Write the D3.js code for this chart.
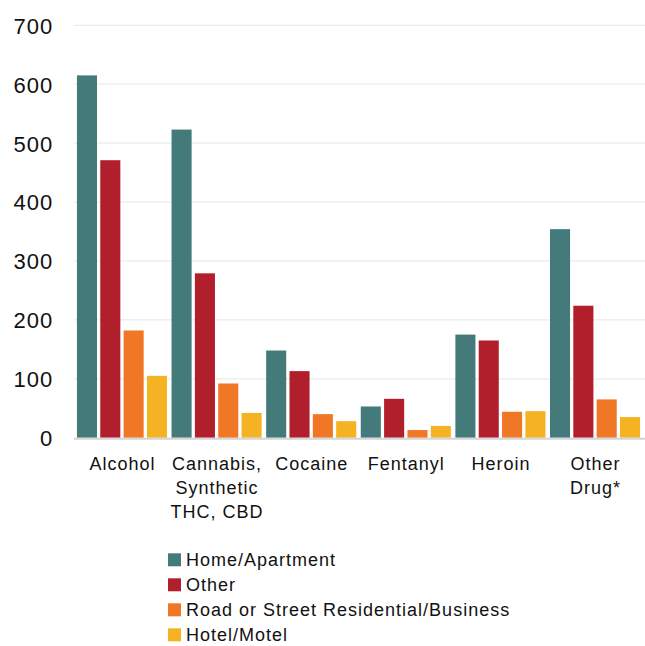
<!DOCTYPE html>
<html><head><meta charset="utf-8">
<script src="https://cdn.jsdelivr.net/npm/d3@7"></script>
<style>body{margin:0;background:#fff;} svg{display:block;} text{font-family:"Liberation Sans",Arial,sans-serif;fill:#111;}</style>
</head><body>
<script>
const categories = ["Alcohol", "Cannabis, Synthetic THC, CBD", "Cocaine", "Fentanyl", "Heroin", "Other Drug*"];
const categoryLines = [["Alcohol"], ["Cannabis,", "Synthetic", "THC, CBD"], ["Cocaine"], ["Fentanyl"], ["Heroin"], ["Other", "Drug*"]];
const seriesNames = ["Home/Apartment", "Other", "Road or Street Residential/Business", "Hotel/Motel"];
const homeApartment = [615, 523, 148, 53, 175, 354];
const other = [471, 279, 113, 66, 165, 224];
const roadStreet = [182, 92, 40, 13, 44, 65];
const hotelMotel = [105, 42, 28, 20, 45, 35];
const yTicks = [0, 100, 200, 300, 400, 500, 600, 700];
const colors = ["#457a7a", "#b01f2b", "#f07726", "#f5b223"];

const seriesValues = [homeApartment, other, roadStreet, hotelMotel];
const W = 645, H = 646;
const svg = d3.select("body").append("svg").attr("width", W).attr("height", H);

const y = d3.scaleLinear().domain([0, 700]).range([437.7, 25.3]);
const x0 = d3.scaleBand().domain(categories).range([74, 643]).paddingInner(0.048).paddingOuter(0.031);
const x1 = d3.scaleBand().domain(seriesNames).range([0, x0.bandwidth()]).paddingInner(0.14).paddingOuter(0);

// gridlines
svg.append("g").selectAll("line").data(yTicks.filter(d => d > 0)).join("line")
  .attr("x1", 74).attr("x2", W).attr("y1", d => y(d)).attr("y2", d => y(d))
  .attr("stroke", "#ebebeb").attr("stroke-width", 1.3);

// y axis labels
const yAxis = d3.axisLeft(y).tickValues(yTicks).tickSize(0).tickPadding(0);
const ya = svg.append("g").attr("transform", "translate(53.3,0)").call(yAxis);
ya.select(".domain").remove();
ya.selectAll("text").style("font-size", "22px").style("letter-spacing", "1px")
  .style("font-family", "'Liberation Sans',Arial,sans-serif").attr("fill", "#111").attr("dy", "0.36em");

// bars
const rows = categories.map((c, i) => ({c, vals: seriesNames.map((s, j) => ({s, v: seriesValues[j][i], j}))}));
const g = svg.append("g").selectAll("g").data(rows).join("g").attr("transform", d => `translate(${x0(d.c)},0)`);
g.selectAll("rect").data(d => d.vals).join("rect")
  .attr("x", d => x1(d.s)).attr("width", x1.bandwidth())
  .attr("y", d => y(d.v)).attr("height", d => y(0) - y(d.v))
  .attr("fill", d => colors[d.j]);

// baseline
svg.append("line").attr("x1", 74).attr("x2", W).attr("y1", y(0) + 1).attr("y2", y(0) + 1)
  .attr("stroke", "#d4d4d4").attr("stroke-width", 2);

// x labels
const xl = svg.append("g").selectAll("text").data(categories).join("text")
  .attr("x", (d) => x0(d) + x0.bandwidth() / 2 + 0.5).attr("y", 470)
  .attr("text-anchor", "middle").style("font-size", "18px").style("letter-spacing", "1px");
xl.each(function(d, i) {
  d3.select(this).selectAll("tspan").data(categoryLines[i]).join("tspan")
    .attr("x", x0(d) + x0.bandwidth() / 2 + 0.5).attr("dy", (t, k) => k === 0 ? 0 : 24).text(t => t);
});

// legend
const lg = svg.append("g").selectAll("g").data(seriesNames).join("g")
  .attr("transform", (d, i) => `translate(168,${553.3 + i * 25})`);
lg.append("rect").attr("width", 13).attr("height", 13).attr("fill", (d, i) => colors[i]);
lg.append("text").attr("x", 18).attr("y", 12.5).style("font-size", "18px").style("letter-spacing", "1px").text(d => d);
</script>
</body></html>
